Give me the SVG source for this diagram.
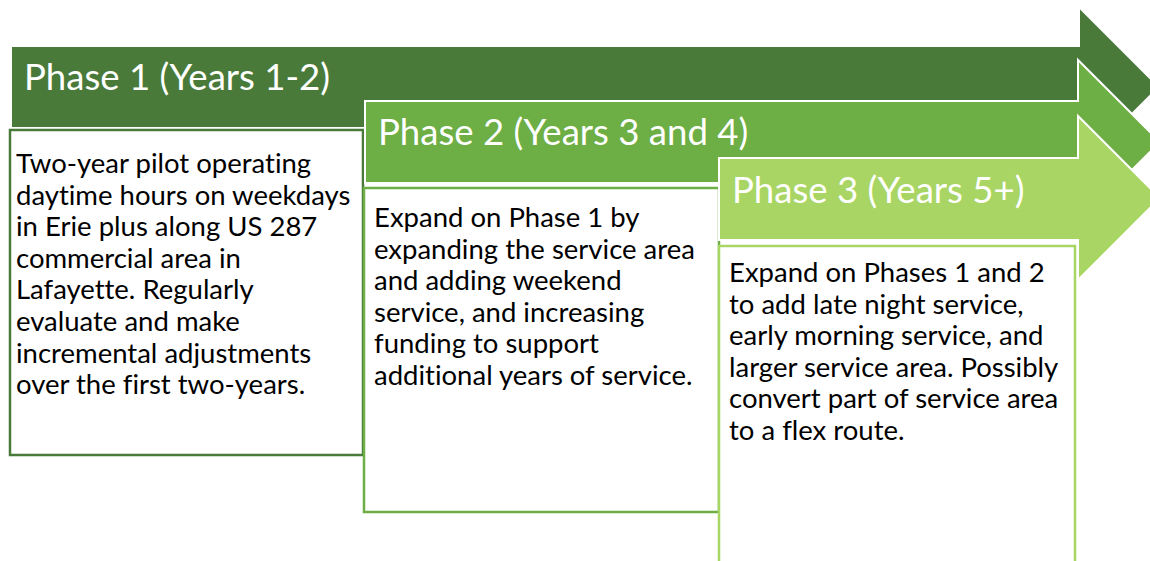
<svg xmlns="http://www.w3.org/2000/svg" width="1150" height="561" viewBox="0 0 1150 561">
<style>
.title{font-family:Lato,"Liberation Sans",sans-serif;font-size:36.6px;fill:#ffffff;font-variant-ligatures:none}
.body{font-family:Lato,"Liberation Sans",sans-serif;font-size:27.5px;fill:#000000;font-variant-ligatures:none}
.arrow{stroke:#ffffff;stroke-width:2;stroke-linejoin:miter}
.box{fill:#ffffff;stroke-width:2.5}
</style>
<rect width="1150" height="561" fill="#ffffff"/>
<g id="phase1">
<path class="arrow" fill="#497A3A" d="M11,46 H1079 V7 L1159,87 L1079,167 V128 H11 Z"/>
<text class="title" x="24" y="90">Phase 1 (Years 1-2)</text>
<rect class="box" stroke="#497A3A" x="10" y="130" width="353" height="325"/>
<text class="body">
<tspan x="16" y="173">Two-year pilot operating</tspan>
<tspan x="16" y="204.6">daytime hours on weekdays</tspan>
<tspan x="16" y="236.2">in Erie plus along US 287</tspan>
<tspan x="16" y="267.8">commercial area in</tspan>
<tspan x="16" y="299.4">Lafayette. Regularly</tspan>
<tspan x="16" y="331">evaluate and make</tspan>
<tspan x="16" y="362.6">incremental adjustments</tspan>
<tspan x="16" y="394.2">over the first two-years.</tspan>
</text>
</g>
<g id="phase2">
<path class="arrow" fill="#6DAE45" d="M365,101 H1078 V60 L1160,142 L1078,224 V183 H365 Z"/>
<text class="title" x="378" y="145">Phase 2 (Years 3 and 4)</text>
<rect class="box" stroke="#6DAE45" x="364" y="188" width="355" height="324"/>
<text class="body">
<tspan x="374" y="227">Expand on Phase 1 by</tspan>
<tspan x="374" y="258.6">expanding the service area</tspan>
<tspan x="374" y="290.2">and adding weekend</tspan>
<tspan x="374" y="321.8">service, and increasing</tspan>
<tspan x="374" y="353.4">funding to support</tspan>
<tspan x="374" y="385">additional years of service.</tspan>
</text>
</g>
<g id="phase3">
<path class="arrow" fill="#A8D563" d="M719,158 H1078 V116 L1160,198 L1078,280 V240 H719 Z"/>
<text class="title" x="732" y="203">Phase 3 (Years 5+)</text>
<rect class="box" stroke="#A8D563" x="719" y="246" width="356" height="360"/>
<text class="body">
<tspan x="729" y="282">Expand on Phases 1 and 2</tspan>
<tspan x="729" y="313.6">to add late night service,</tspan>
<tspan x="729" y="345.2">early morning service, and</tspan>
<tspan x="729" y="376.8">larger service area. Possibly</tspan>
<tspan x="729" y="408.4">convert part of service area</tspan>
<tspan x="729" y="440">to a flex route.</tspan>
</text>
</g>
<g id="connectors"></g>
</svg>
